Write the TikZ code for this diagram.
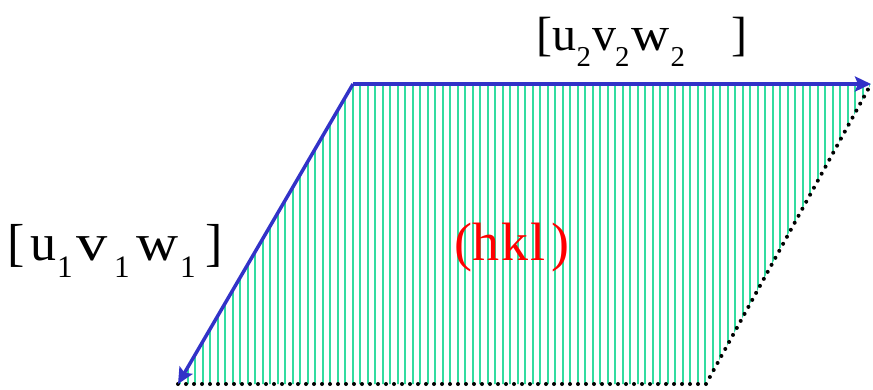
\documentclass[tikz,border=0pt]{standalone}
\usepackage{fontspec}
\setmainfont{Liberation Serif}
\usetikzlibrary{arrows.meta}
\definecolor{hatchgreen}{RGB}{50,220,160}
\definecolor{vecblue}{RGB}{50,50,200}
\newcommand{\subA}[1]{\raisebox{-16pt}{\scalebox{0.6}{#1}}}
\newcommand{\subB}[1]{\raisebox{-17pt}{\scalebox{0.6}{#1}}}
\newcommand{\wide}[2]{\scalebox{#1}[1]{#2}}
\tikzset{
  vec/.style={draw=vecblue, line width=3.5pt, -{Stealth[length=16pt,width=15pt,inset=3pt]}},
  dotedge/.style={draw=black, line width=4pt, line cap=round, dash pattern=on 0pt off 8pt},
  hatch/.style={draw=hatchgreen, line width=2pt},
  lbl/.style={inner sep=0pt, anchor=base west}
}
\begin{document}
\begin{tikzpicture}[x=1pt,y=-1pt]
\useasboundingbox (0,0) rectangle (873,389);
\coordinate (A) at (353,84);
\coordinate (B) at (871,84);
\coordinate (C) at (706,384);
\coordinate (D) at (178,384);
\begin{scope}
  \clip (A) -- (B) -- (C) -- (D) -- cycle;
  \foreach \x in {180,187.5,...,872} {
    \draw[hatch] (\x,80) -- (\x,390);
  }
\end{scope}
\draw[dotedge] (D) -- (C) -- (B);
\draw[vec] (A) -- (D);
\draw[vec] (A) -- (B);
\node[lbl, font=\fontsize{48pt}{52pt}\selectfont] (t2) at (536,50)
  {[u\kern0.5pt\subA{2}\kern1pt v\kern-1pt\subA{2}\kern2pt\wide{1.1}{w}\kern1pt\subA{2}\kern46pt]};
\node[lbl, font=\fontsize{52pt}{56pt}\selectfont] (t1) at (7,260)
  {[\kern5.7pt u\kern1pt\subB{1}\kern4pt\wide{1.2}{v}\kern6pt\subB{1}\kern7pt\wide{1.12}{w}\kern1.5pt\subB{1}\kern10pt]};
\node[lbl, font=\fontsize{54pt}{58pt}\selectfont, text=red] (hkl) at (454,260)
  {(h\kern2pt k\kern2pt l\kern6pt)};
\end{tikzpicture}
\end{document}
